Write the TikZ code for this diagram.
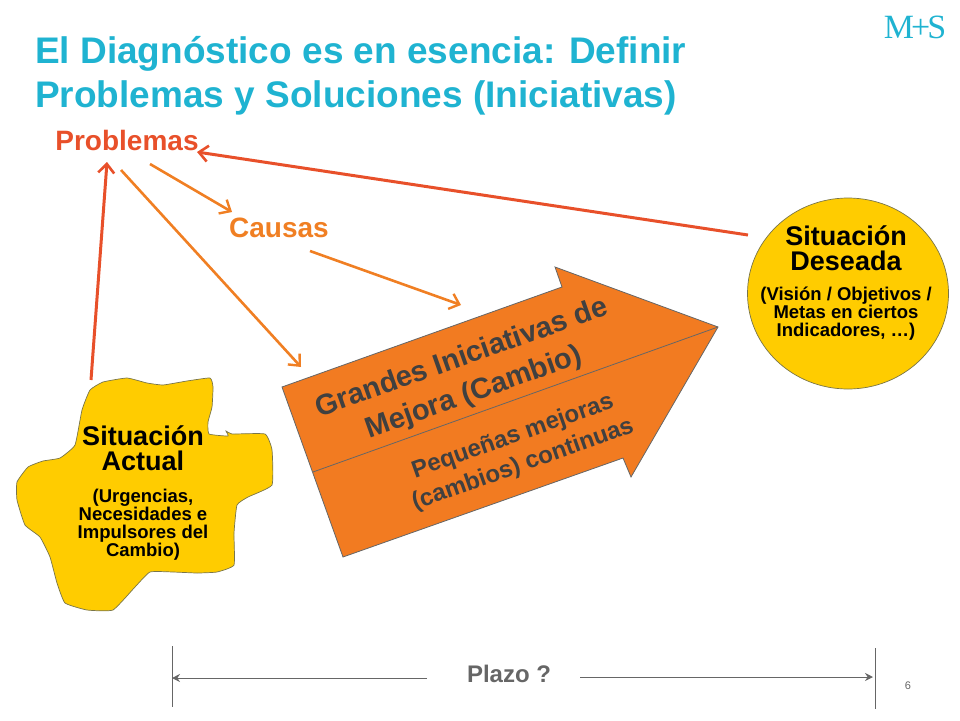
\documentclass[tikz,border=0pt]{standalone}
\usepackage{fontspec}
\setmainfont{Liberation Sans}
\newfontfamily\logofont{Liberation Serif}
\usetikzlibrary{arrows.meta,shapes.geometric}
\definecolor{titleteal}{HTML}{1FB3D1}
\definecolor{probred}{HTML}{E8502A}
\definecolor{causeorange}{HTML}{F07F23}
\definecolor{bigarrow}{HTML}{F27B21}
\definecolor{blobyellow}{HTML}{FFCC00}
\definecolor{plazogray}{HTML}{666666}
\definecolor{arrowtext}{HTML}{404040}
\newcommand{\px}[2]{\fontsize{#1}{#2}\selectfont}
\tikzset{
  redline/.style={draw=probred, line width=3pt, -{Straight Barb[length=9pt,width=16pt,line width=2.6pt]}},
  orangeline/.style={draw=causeorange, line width=2.6pt, -{Straight Barb[length=9pt,width=16pt,line width=2.4pt]}},
  plazoline/.style={draw=plazogray, line width=1pt, -{Stealth[length=8pt,width=8pt]}},
  tickline/.style={draw=plazogray, line width=0.8pt},
  heading/.style={font=\bfseries\px{37}{44}, text=titleteal, align=left, anchor=west, inner sep=0pt},
  bigtext/.style={font=\bfseries\px{27}{25}, align=center, inner sep=0pt},
  subtext/.style={font=\bfseries\px{18.5}{18}, align=center, inner sep=0pt},
  arrowtitle/.style={font=\bfseries\px{29}{37}, text=arrowtext, align=center, inner sep=0pt, rotate=19.5},
  arrowsub/.style={font=\bfseries\px{24}{30}, text=arrowtext, align=center, inner sep=0pt, rotate=19.5},
}
\begin{document}
\begin{tikzpicture}[x=1pt, y=-1pt]
    \useasboundingbox (0,0) rectangle (960,720);
    % title and logo
    \node[heading] (title) at (35,76) {El Diagnóstico es en esencia: Definir\\Problemas y Soluciones (Iniciativas)};
    \node[font=\logofont\px{34}{34}, text=titleteal, inner sep=0pt] (logo) at (915,27) {M\kern-3pt+\kern-3pt S};
    % labels
    \node[font=\bfseries\px{28}{28}, text=probred, inner sep=0pt] (problemas) at (127,140) {Problemas};
    \node[font=\bfseries\px{28}{28}, text=causeorange, inner sep=0pt] (causas) at (279,228) {Causas};
    % current situation
    \draw[fill=blobyellow, draw=black!60!yellow, line width=0.7pt] plot[smooth cycle, tension=0.25] coordinates {
        (90,390) (103,382) (127,378) (147,383) (163,385) (187,381) (210,378) (213,387)
        (212,407) (208,422) (209,434) (228,436) (226,431) (232,434) (265,434) (272,450)
        (272,485) (248,497) (237,505) (234,533) (234,565) (217,572) (197,573) (173,572)
        (150,572) (135,587) (113,610) (87,610) (65,603) (57,583) (50,557) (40,537)
        (25,525) (17,500) (17,482) (28,467) (43,461) (60,458) (75,445) (82,410)};
    \node[bigtext] (actual) at (143,448) {Situación\\Actual};
    \node[subtext] (actualsub) at (143,525) {(Urgencias,\\Necesidades e\\Impulsores del\\Cambio)};
    % desired situation
    \node[ellipse, fill=blobyellow, draw=black!60!yellow, line width=0.7pt, minimum width=201pt, minimum height=191pt, inner sep=0pt] (deseada) at (848,293.5) {};
    \node[bigtext] (deseadatitle) at (846,248) {Situación\\Deseada};
    \node[subtext] (deseadasub) at (846,314) {(Visión / Objetivos /\\Metas en ciertos\\Indicadores, …)};
    % big arrow
    \draw[fill=bigarrow, draw=plazogray, line width=0.8pt] (282,387) -- (562,287) -- (555,267) -- (718,327) -- (631,477) -- (623,458) -- (343,557) -- cycle;
    \draw[draw=plazogray, line width=0.8pt] (313,472) -- (718,327);
    \node[arrowtitle] (grandes) at (468,376) {Grandes Iniciativas de\\Mejora (Cambio)};
    \node[arrowsub] (pequenas) at (518,451) {Pequeñas mejoras\\(cambios) continuas};
    % connector ends
    \coordinate (actualtop) at (91,380);
    \coordinate (problemasbelow) at (107,162);
    \coordinate (problemasright) at (197,152);
    \coordinate (deseadaleft) at (748,235);
    \coordinate (problemascause) at (150,164);
    \coordinate (causastop) at (232,212);
    \coordinate (problemasarrow) at (121,170);
    \coordinate (grandesleft) at (301,367);
    \coordinate (causasout) at (310,251);
    \coordinate (grandestop) at (461,305);
    \draw[redline] (actualtop) -- (problemasbelow);
    \draw[redline] (deseadaleft) -- (problemasright);
    \draw[orangeline] (problemascause) -- (causastop);
    \draw[orangeline] (problemasarrow) -- (grandesleft);
    \draw[orangeline] (causasout) -- (grandestop);
    % term
    \node[font=\bfseries\px{24}{24}, text=plazogray, inner sep=0pt] (plazo) at (509,674) {Plazo ?};
    \coordinate (tickleft) at (172,646);
    \coordinate (tickleftend) at (172,707);
    \coordinate (tickright) at (875,648);
    \coordinate (tickrightend) at (875,709);
    \coordinate (plazoleft) at (172,678);
    \coordinate (plazoright) at (873,677);
    \coordinate (plazostartl) at (427,678);
    \coordinate (plazostartr) at (580,677);
    \draw[tickline] (tickleft) -- (tickleftend);
    \draw[tickline] (tickright) -- (tickrightend);
    \draw[plazoline] (plazostartl) -- (plazoleft);
    \draw[plazoline] (plazostartr) -- (plazoright);
    \node[font=\px{11}{11}, text=plazogray, inner sep=0pt] (pagenum) at (908,686) {6};
\end{tikzpicture}
\end{document}
